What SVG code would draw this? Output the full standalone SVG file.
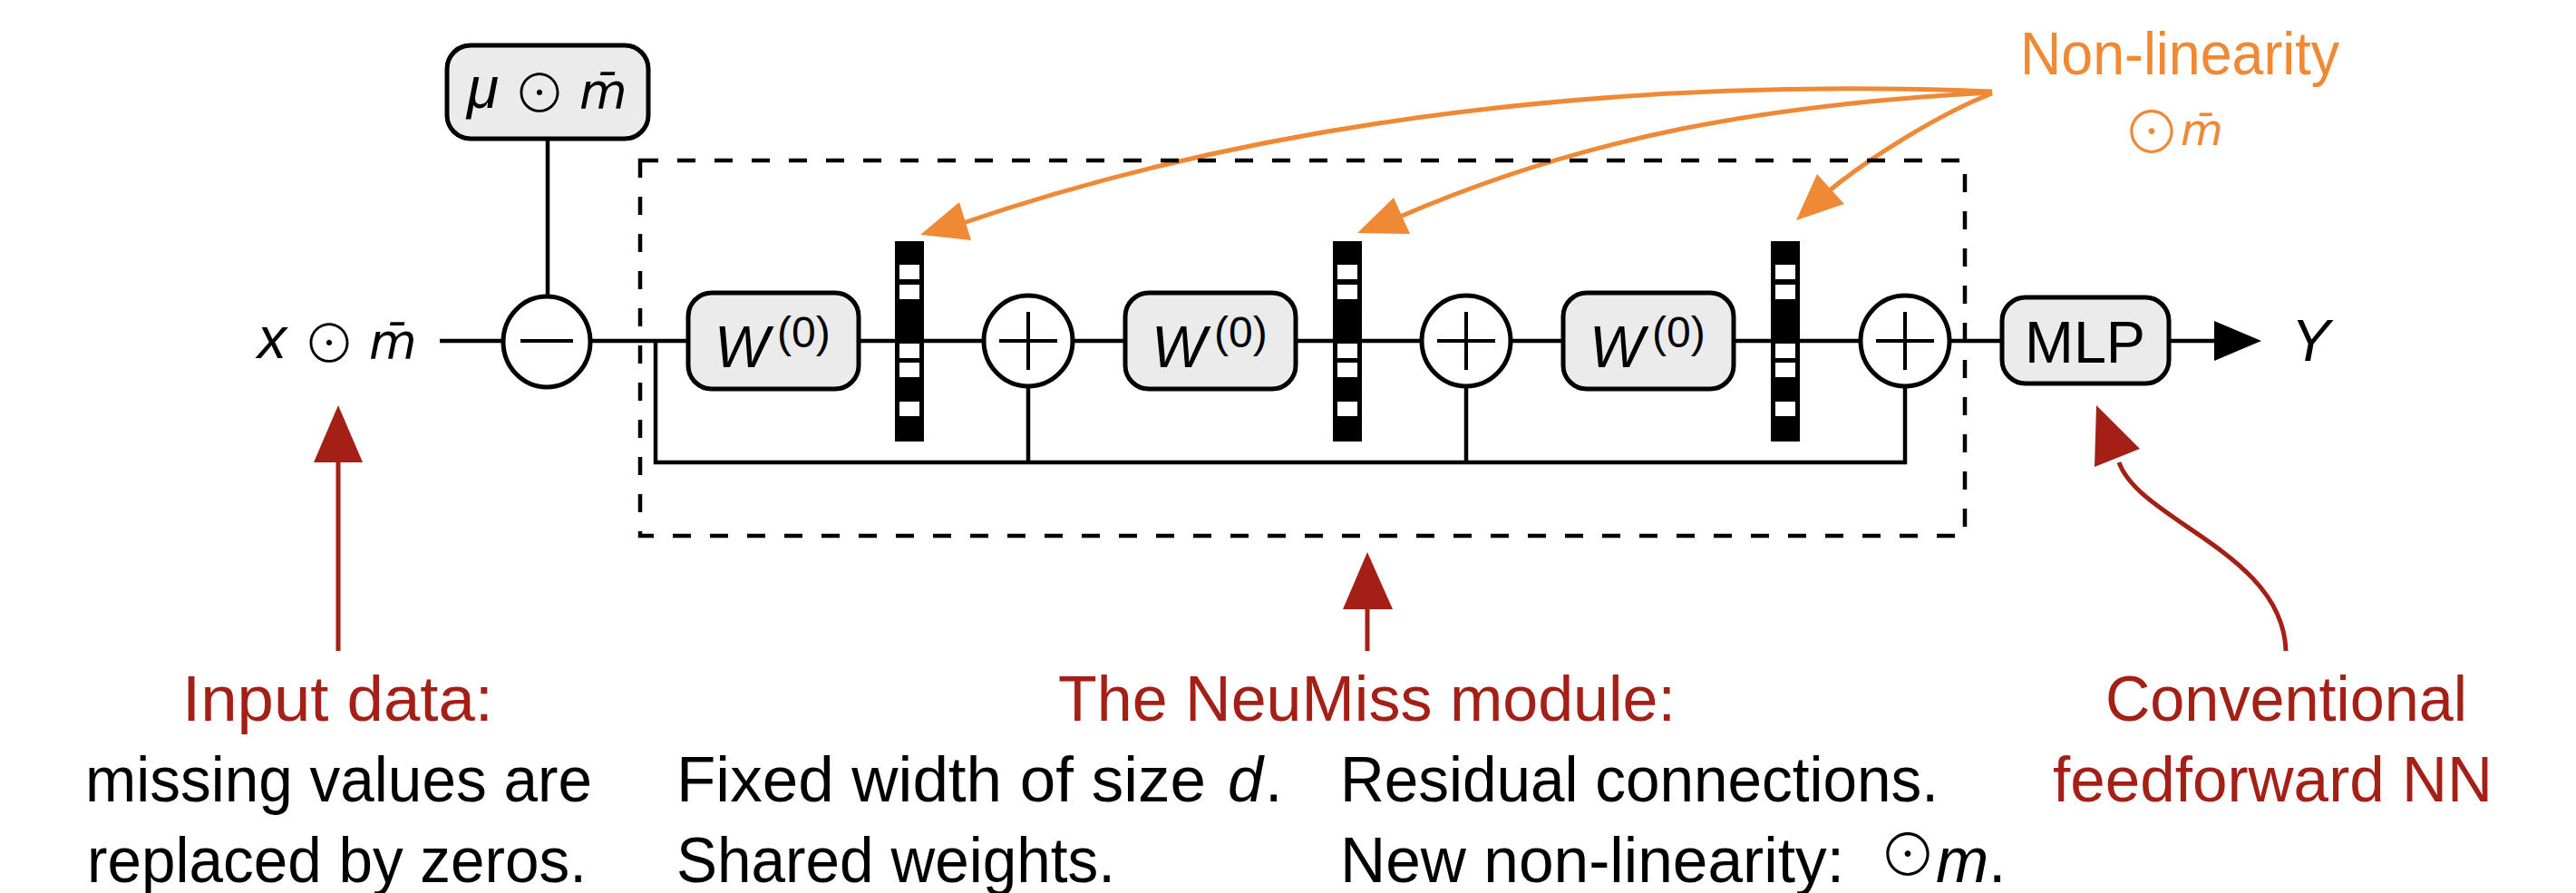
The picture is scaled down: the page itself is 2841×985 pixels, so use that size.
<svg xmlns="http://www.w3.org/2000/svg" width="2841" height="985" viewBox="0 0 2841 985">
<style>
.box{fill:#ebebeb;stroke:#000;stroke-width:5}
.circ{fill:#fff;stroke:#000;stroke-width:5}
.ln{fill:none;stroke:#000;stroke-width:4.5}
.sym{fill:none;stroke:#000;stroke-width:4}
.orng{fill:none;stroke:#ef8936;stroke-width:5}
.red{fill:none;stroke:#a42016;stroke-width:5}
.ohead{fill:#ef8936}
.rhead{fill:#a42016}
text{font-family:"Liberation Sans","DejaVu Sans",sans-serif}
.math{font-size:64px;fill:#000}
.it{font-style:italic}
.odot{font-family:"Noto Sans CJK SC","DejaVu Sans",sans-serif;font-style:normal;font-weight:300}
.mbar{font-family:"DejaVu Sans",sans-serif;font-style:italic}
.lbl{font-size:70px}
.redt{fill:#a42016}
.blk{fill:#000}
.ort{fill:#ef8936}
</style>
<g id="connectors">
<line class="ln" x1="485" y1="376" x2="2444" y2="376"/>
<line class="ln" x1="604" y1="153" x2="604" y2="327"/>
<path class="ln" d="M723,376 V510 H2101 V426 M1134,426 V510 M1617,426 V510"/>
<polygon points="2442,354 2442,398 2494,376" fill="#000"/>
<path class="orng" d="M2197,101 C1800,85 1400,130 1062,246"/>
<polygon class="ohead" points="1015,259 1058,223 1071,265"/>
<path class="orng" d="M2197,102 C1950,115 1750,150 1544,239"/>
<polygon class="ohead" points="1497,257 1537,218 1555,258"/>
<path class="orng" d="M2197,103 C2140,125 2060,175 2018,210"/>
<polygon class="ohead" points="1981,243 2004,192 2034,225"/>
<line class="red" x1="373" y1="718" x2="373" y2="505"/>
<polygon class="rhead" points="373,447 346,510 400,510"/>
<line class="red" x1="1508" y1="718" x2="1508" y2="667"/>
<polygon class="rhead" points="1508,609 1481,672 1536,672"/>
<path class="red" d="M2521,718 C2518,610 2360,575 2337,510"/>
<polygon class="rhead" points="2312,447 2310,515 2360,495"/>
</g>
<g id="module-box">
<rect x="706" y="177" width="1461" height="414" fill="none" stroke="#000" stroke-width="4.5" stroke-dasharray="20 21"/>
</g>
<g id="input">
<text class="math"><tspan class="it" x="284" y="395">x</tspan><tspan class="odot" x="334" y="400" font-size="58">⊙</tspan><tspan class="mbar" x="407" y="395" font-size="54">m̄</tspan></text>
</g>
<g id="node-mu">
<rect class="box" x="493" y="50" width="222" height="103" rx="26"/>
<text class="math"><tspan class="it" x="515" y="119">μ</tspan><tspan class="odot" x="566" y="124" font-size="58">⊙</tspan><tspan class="mbar" x="639" y="119" font-size="54">m̄</tspan></text>
</g>
<g id="node-minus">
<ellipse class="circ" cx="603" cy="377" rx="48" ry="50"/>
<line class="sym" x1="574" y1="376" x2="632" y2="376"/>
</g>
<g id="node-w1">
<rect class="box" x="759" y="323" width="188" height="106" rx="26"/>
<text class="math"><tspan class="it" x="788" y="405">W</tspan><tspan x="857" y="383" font-size="48">(0)</tspan></text>
</g>
<g id="bar1">
<rect x="987" y="266" width="32" height="221" fill="#000"/>
<g fill="#fff"><rect x="992" y="292" width="22" height="16"/><rect x="992" y="314" width="22" height="16"/><rect x="992" y="379" width="22" height="16"/><rect x="992" y="400" width="22" height="16"/><rect x="992" y="443" width="22" height="16"/></g>
</g>
<g id="node-plus1">
<ellipse class="circ" cx="1134" cy="376" rx="49" ry="50"/>
<path class="sym" d="M1102,376 H1166 M1134,344 V408"/>
</g>
<g id="node-w2">
<rect class="box" x="1241" y="323" width="188" height="106" rx="26"/>
<text class="math"><tspan class="it" x="1270" y="405">W</tspan><tspan x="1339" y="383" font-size="48">(0)</tspan></text>
</g>
<g id="bar2">
<rect x="1470" y="266" width="32" height="221" fill="#000"/>
<g fill="#fff"><rect x="1475" y="292" width="22" height="16"/><rect x="1475" y="314" width="22" height="16"/><rect x="1475" y="379" width="22" height="16"/><rect x="1475" y="400" width="22" height="16"/><rect x="1475" y="443" width="22" height="16"/></g>
</g>
<g id="node-plus2">
<ellipse class="circ" cx="1617" cy="376" rx="49" ry="50"/>
<path class="sym" d="M1585,376 H1649 M1617,344 V408"/>
</g>
<g id="node-w3">
<rect class="box" x="1724" y="323" width="188" height="106" rx="26"/>
<text class="math"><tspan class="it" x="1753" y="405">W</tspan><tspan x="1822" y="383" font-size="48">(0)</tspan></text>
</g>
<g id="bar3">
<rect x="1953" y="266" width="32" height="221" fill="#000"/>
<g fill="#fff"><rect x="1958" y="292" width="22" height="16"/><rect x="1958" y="314" width="22" height="16"/><rect x="1958" y="379" width="22" height="16"/><rect x="1958" y="400" width="22" height="16"/><rect x="1958" y="443" width="22" height="16"/></g>
</g>
<g id="node-plus3">
<ellipse class="circ" cx="2101" cy="376" rx="49" ry="50"/>
<path class="sym" d="M2069,376 H2133 M2101,344 V408"/>
</g>
<g id="node-mlp">
<rect class="box" x="2208" y="328" width="184" height="95" rx="26"/>
<text class="math" x="2233" y="400" textLength="133" lengthAdjust="spacingAndGlyphs">MLP</text>
</g>
<g id="output">
<text class="math it" x="2527" y="398">Y</text>
</g>
<g id="label-nonlin">
<text class="ort" x="2228" y="82" font-size="66" textLength="352" lengthAdjust="spacingAndGlyphs">Non-linearity</text>
<text class="ort"><tspan class="odot" x="2341" y="169" font-size="64">⊙</tspan><tspan class="mbar" x="2405" y="160" font-size="48">m̄</tspan></text>
</g>
<g id="label-input">
<text class="lbl redt" x="201" y="795" textLength="343" lengthAdjust="spacingAndGlyphs">Input data:</text>
<text class="lbl blk" x="94" y="884" textLength="559" lengthAdjust="spacingAndGlyphs">missing values are</text>
<text class="lbl blk" x="96" y="973" textLength="551" lengthAdjust="spacingAndGlyphs">replaced by zeros.</text>
</g>
<g id="label-neumiss">
<text class="lbl redt" x="1167" y="795" textLength="681" lengthAdjust="spacingAndGlyphs">The NeuMiss module:</text>
<text class="lbl blk" x="746" y="884" textLength="584" lengthAdjust="spacingAndGlyphs">Fixed width of size</text>
<text class="lbl blk" y="884"><tspan class="it" x="1354">d</tspan><tspan x="1395">.</tspan></text>
<text class="lbl blk" x="746" y="973" textLength="484" lengthAdjust="spacingAndGlyphs">Shared weights.</text>
<text class="lbl blk" x="1478" y="884" textLength="660" lengthAdjust="spacingAndGlyphs">Residual connections.</text>
<text class="lbl blk" x="1478" y="973" textLength="556" lengthAdjust="spacingAndGlyphs">New non-linearity:</text>
<text class="lbl blk"><tspan class="odot" x="2072" y="966" font-size="64">⊙</tspan><tspan class="it" x="2135" y="973">m</tspan><tspan x="2193" y="973">.</tspan></text>
</g>
<g id="label-mlp">
<text class="lbl redt" x="2322" y="795" textLength="399" lengthAdjust="spacingAndGlyphs">Conventional</text>
<text class="lbl redt" x="2264" y="884" textLength="485" lengthAdjust="spacingAndGlyphs">feedforward NN</text>
</g>
</svg>
